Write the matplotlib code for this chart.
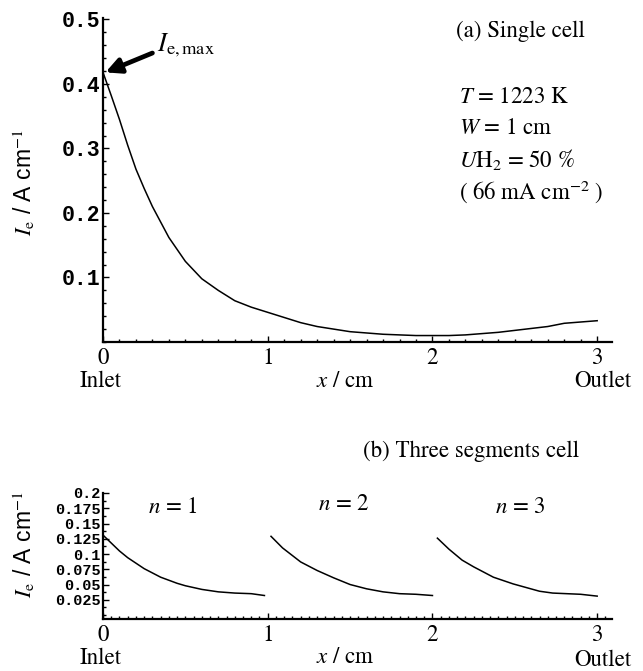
import numpy as np
import matplotlib
matplotlib.use("Agg")
import matplotlib.pyplot as plt
from matplotlib.ticker import MultipleLocator, FixedLocator

plt.rcParams['mathtext.fontset'] = 'stix'
plt.rcParams['font.family'] = ['STIXGeneral', 'DejaVu Serif']

# ---- data: (a) single cell ----
x_single = [0, 0.05, 0.1, 0.15, 0.2, 0.25, 0.3, 0.35, 0.4, 0.5, 0.6, 0.7, 0.8, 0.9, 1.0,
            1.1, 1.2, 1.3, 1.4, 1.5, 1.6, 1.7, 1.8, 1.9, 2.0, 2.1, 2.2, 2.3, 2.4, 2.5,
            2.6, 2.7, 2.8, 2.9, 3.0]
ie_single = [0.418, 0.382, 0.345, 0.305, 0.268, 0.238, 0.210, 0.186, 0.162, 0.125, 0.098,
             0.080, 0.064, 0.054, 0.046, 0.038, 0.030, 0.024, 0.020, 0.016, 0.014, 0.012,
             0.011, 0.010, 0.010, 0.010, 0.011, 0.013, 0.015, 0.018, 0.021, 0.024, 0.029,
             0.031, 0.033]

# ---- data: (b) three segments cell ----
x_seg1 = [0, 0.05, 0.1, 0.15, 0.2, 0.25, 0.3, 0.35, 0.4, 0.45, 0.5, 0.6, 0.7, 0.8, 0.9, 0.98]
ie_seg1 = [0.131, 0.118, 0.105, 0.094, 0.085, 0.076, 0.069, 0.062, 0.057, 0.052, 0.048,
           0.042, 0.038, 0.036, 0.035, 0.032]
x_seg2 = [1.02, 1.09, 1.2, 1.3, 1.4, 1.5, 1.6, 1.7, 1.8, 1.9, 2.0]
ie_seg2 = [0.129, 0.110, 0.087, 0.073, 0.061, 0.050, 0.043, 0.038, 0.035, 0.034, 0.032]
x_seg3 = [2.03, 2.1, 2.18, 2.25, 2.37, 2.49, 2.65, 2.73, 2.9, 3.0]
ie_seg3 = [0.126, 0.108, 0.090, 0.079, 0.062, 0.051, 0.039, 0.036, 0.034, 0.031]

top_yticks = [0.1, 0.2, 0.3, 0.4, 0.5]
bot_yticks = [0.025, 0.05, 0.075, 0.1, 0.125, 0.15, 0.175, 0.2]
bot_yticklabels = ['0.025', '0.05', '0.075', '0.1', '0.125', '0.15', '0.175', '0.2']
xticks = [0, 1, 2, 3]

W, H = 643, 671
fig = plt.figure(figsize=(W / 100, H / 100), dpi=100)
FS = 16.5


def px(x0, y0, x1, y1):
    return [x0 / W, 1 - y1 / H, (x1 - x0) / W, (y1 - y0) / H]


def ftext(x, y, s, **kw):
    fig.text(x / W, 1 - y / H, s, **kw)


def style_axes(ax):
    for s in ['top', 'right']:
        ax.spines[s].set_visible(False)
    for s in ['left', 'bottom']:
        ax.spines[s].set_linewidth(1.6)
    ax.tick_params(which='both', direction='in', width=1.0)
    ax.tick_params(which='major', length=4)
    ax.tick_params(which='minor', length=2.5)
    ax.tick_params(axis='x', which='major', pad=4, labelsize=FS)


# ---- top panel ----
ax1 = fig.add_axes(px(103, 18, 612, 342))
ax1.plot(x_single, ie_single, color='black', lw=1.1)
ax1.set_xlim(0, 3.09)
ax1.set_ylim(0, 0.5023)
style_axes(ax1)
ax1.xaxis.set_major_locator(FixedLocator(xticks))
ax1.xaxis.set_minor_locator(MultipleLocator(0.1))
ax1.yaxis.set_major_locator(FixedLocator(top_yticks))
ax1.yaxis.set_minor_locator(MultipleLocator(0.02))
ax1.set_yticklabels(['%.1f' % v for v in top_yticks], family='Liberation Mono',
                    weight='bold', fontsize=15.5)
ax1.tick_params(axis='y', which='major', pad=2)
ax1.set_xticklabels([str(v) for v in xticks], fontsize=FS)
ax1.annotate('', xy=(0.015, 0.418), xytext=(0.3, 0.448),
             arrowprops=dict(arrowstyle='-|>,head_length=0.9,head_width=0.45',
                             color='black', lw=3.4, shrinkA=0, shrinkB=0))
ftext(157, 45, r'$I_{\mathrm{e,max}}$', fontsize=19, ha='left', va='center')

ftext(456, 31, '(a) Single cell', fontsize=FS, ha='left', va='center')
ftext(459, 97, r'$T$ = 1223 K', fontsize=FS, ha='left', va='center')
ftext(459, 128, r'$W$ = 1 cm', fontsize=FS, ha='left', va='center')
ftext(459, 160, r'$U\mathrm{H}_2$ = 50 %', fontsize=FS, ha='left', va='center')
ftext(459, 192, r'( 66 mA cm$^{-2}$ )', fontsize=FS, ha='left', va='center')

ftext(24, 183, r'$I_{\mathrm{e}}$' + ' / A cm' + r'$^{-1}$', fontsize=FS, rotation=90,
      ha='center', va='center', family=['Liberation Sans', 'DejaVu Sans'])
ftext(101, 381, 'Inlet', fontsize=FS, ha='center', va='center')
ftext(345, 381, r'$x$ / cm', fontsize=FS, ha='center', va='center')
ftext(603, 381, 'Outlet', fontsize=FS, ha='center', va='center')

# ---- bottom panel ----
ax2 = fig.add_axes(px(103, 493, 612, 619))
ax2.plot(x_seg1, ie_seg1, color='black', lw=1.1)
ax2.plot(x_seg2, ie_seg2, color='black', lw=1.1)
ax2.plot(x_seg3, ie_seg3, color='black', lw=1.1)
ax2.set_xlim(0, 3.09)
ax2.set_ylim(-0.0065, 0.2)
style_axes(ax2)
ax2.xaxis.set_major_locator(FixedLocator(xticks))
ax2.xaxis.set_minor_locator(MultipleLocator(0.05))
ax2.yaxis.set_major_locator(FixedLocator(bot_yticks))
ax2.yaxis.set_minor_locator(MultipleLocator(0.0125))
ax2.set_yticklabels(bot_yticklabels, family='Liberation Mono', weight='bold', fontsize=11)
ax2.tick_params(axis='y', which='major', pad=1.5)
ax2.set_xticklabels([str(v) for v in xticks], fontsize=FS)

ftext(363, 451, '(b) Three segments cell', fontsize=FS, ha='left', va='center')
ftext(173, 507, r'$n$ = 1', fontsize=FS, ha='center', va='center')
ftext(344, 504, r'$n$ = 2', fontsize=FS, ha='center', va='center')
ftext(520, 507, r'$n$ = 3', fontsize=FS, ha='center', va='center')

ftext(24, 545, r'$I_{\mathrm{e}}$' + ' / A cm' + r'$^{-1}$', fontsize=FS, rotation=90,
      ha='center', va='center', family=['Liberation Sans', 'DejaVu Sans'])
ftext(101, 658, 'Inlet', fontsize=FS, ha='center', va='center')
ftext(345, 657, r'$x$ / cm', fontsize=FS, ha='center', va='center')
ftext(603, 660, 'Outlet', fontsize=FS, ha='center', va='center')

fig.savefig('out.png', dpi=100)
